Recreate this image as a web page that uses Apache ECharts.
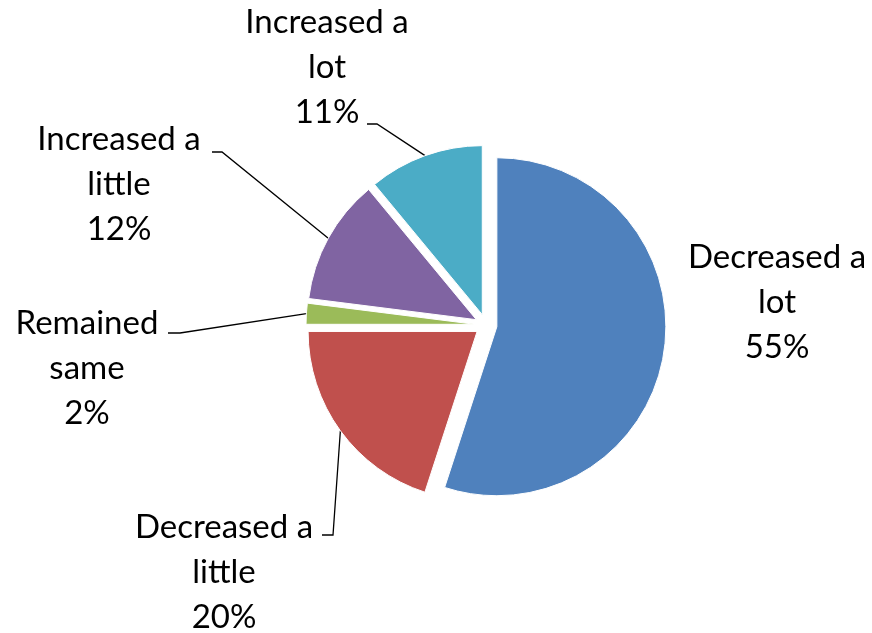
<!DOCTYPE html>
<html>
<head>
<meta charset="utf-8">
<script src="https://cdn.jsdelivr.net/npm/echarts@6/dist/echarts.min.js"></script>
<style>
  html, body { margin: 0; padding: 0; background: #ffffff; }
  #chart { width: 872px; height: 633px; }
</style>
</head>
<body>
<div id="chart"></div>
<script>
// Survey answers, clockwise from 12 o'clock
const categories = ['Decreased a lot', 'Decreased a little', 'Remained same', 'Increased a little', 'Increased a lot'];
const shares = [55, 20, 2, 12, 11];
const sliceColors = ['#4F81BD', '#C0504D', '#9BBB59', '#8064A2', '#4BACC6'];

// Layout
const CENTER = [486, 325];
const RADIUS = 169;
const EXPLODE = 11;
const labelPos = [[777, 302], [224, 572], [87, 368], [119, 184], [327, 67]];
const leaderEnd = [
  null,
  [[333, 535], [322, 535]],
  [[180, 333], [168, 333]],
  [[222, 152], [212, 152]],
  [[377, 124], [367, 124]]
];

const total = shares.reduce((a, b) => a + b, 0);
function midAngle(i) {
  let s = 0;
  for (let k = 0; k < i; k++) s += shares[k];
  return (s + shares[i] / 2) / total * 2 * Math.PI;
}
// point on the outer edge of an exploded slice, at its middle angle
function edgePoint(i) {
  const a = midAngle(i);
  const r = RADIUS + EXPLODE;
  return [CENTER[0] + r * Math.sin(a), CENTER[1] - r * Math.cos(a)];
}

const chart = echarts.init(document.getElementById('chart'), null, { renderer: 'canvas' });

const pieBase = {
  type: 'pie',
  center: CENTER,
  radius: RADIUS,
  startAngle: 90,
  clockwise: true,
  avoidLabelOverlap: false,
  emphasis: { disabled: true }
};

chart.setOption({
  backgroundColor: '#ffffff',
  animation: false,
  series: [
    // exploded slices
    Object.assign({}, pieBase, {
      selectedMode: 'multiple',
      selectedOffset: EXPLODE,
      itemStyle: { borderColor: '#ffffff', borderWidth: 1 },
      label: { show: false },
      labelLine: { show: false },
      data: categories.map((name, i) => ({
        name: name,
        value: shares[i],
        selected: true,
        itemStyle: { color: sliceColors[i] }
      }))
    }),
    // data labels with leader lines
    Object.assign({}, pieBase, {
      silent: true,
      itemStyle: { color: 'rgba(0,0,0,0)' },
      label: {
        show: true,
        position: 'outside',
        fontFamily: 'Lato',
        fontSize: 33,
        lineHeight: 45,
        color: '#000000',
        align: 'center',
        formatter: p => p.name.replace(/ (\S+)$/, '\n$1') + '\n' + p.value + '%'
      },
      labelLine: { show: true, lineStyle: { color: '#000000', width: 1.3 } },
      labelLayout: function (p) {
        const i = p.dataIndex;
        const out = { x: labelPos[i][0], y: labelPos[i][1], align: 'center', verticalAlign: 'middle' };
        if (leaderEnd[i]) out.labelLinePoints = [edgePoint(i)].concat(leaderEnd[i]);
        return out;
      },
      data: categories.map((name, i) => ({
        name: name,
        value: shares[i],
        labelLine: { show: i !== 0 }
      }))
    })
  ]
});
</script>
</body>
</html>
